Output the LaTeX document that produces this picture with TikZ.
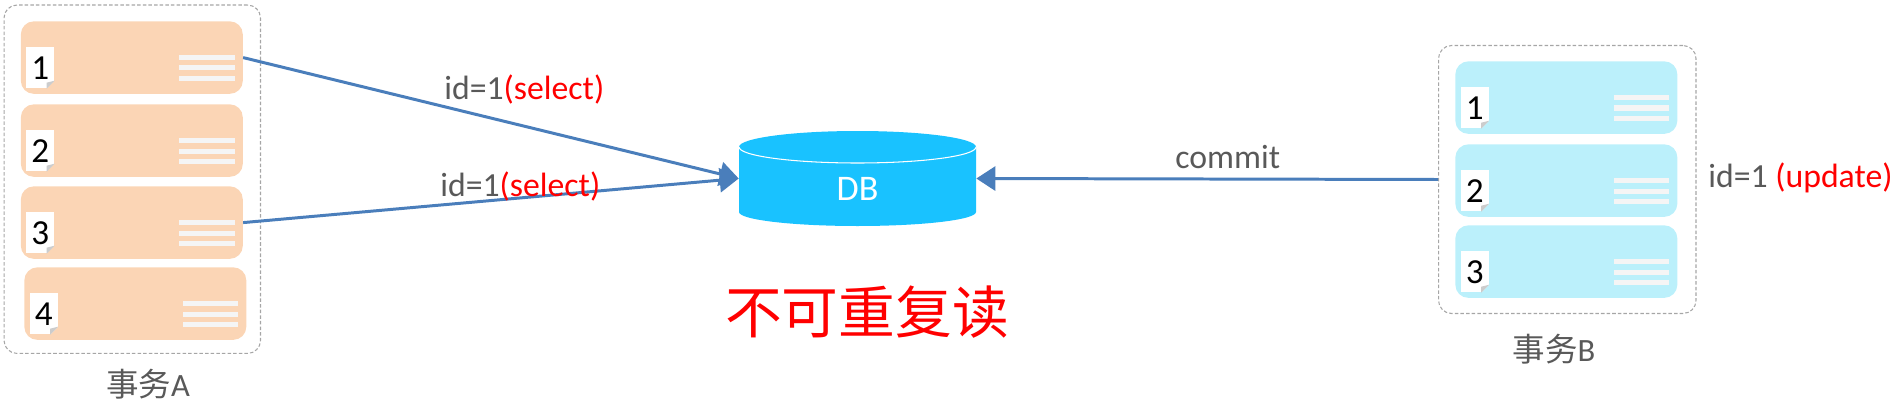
\documentclass[tikz,border=0pt]{standalone}
\usepackage{fontspec}
\setmainfont{Carlito}
\newfontfamily\cjk{Noto Sans CJK SC}
\usetikzlibrary{arrows.meta}
\definecolor{rowa}{HTML}{FBD5B5}
\definecolor{rowb}{HTML}{BBF0FB}
\definecolor{dbblue}{HTML}{19C2FF}
\definecolor{linkblue}{HTML}{4A7EBB}
\definecolor{txtgray}{HTML}{595959}
\tikzset{
    txbox/.style={draw=black!35, line width=0.6pt, dash pattern=on 2pt off 1.2pt, rounded corners=0.26cm, inner sep=0, anchor=north west},
    txrow/.style={rounded corners=0.26cm, inner sep=0, anchor=north west, minimum width=4.44cm, minimum height=1.45cm},
    txnote/.style={fill=white, inner sep=0, anchor=north west, minimum width=0.56cm, minimum height=0.82cm, font=\fontsize{20}{20}\selectfont},
    txlink/.style={draw=linkblue, line width=1.7pt, -{Triangle[length=0.38cm,width=0.48cm]}},
    txlabel/.style={anchor=base west, inner sep=0, text=txtgray, font=\fontsize{19.2}{22}\selectfont},
}
% one transaction row: name, x, y, number, colour
\newcommand{\txline}[5]{
    \node[txrow, fill=#5] (#1) at (#2, #3) {};
    \node[txnote] (#1note) at (#2+5.5, #3+26) {#4};
    \fill[#5] (#1note.south east) -- ++(-8, 0) -- ++(8, -8) -- cycle;
    \fill[black!20] (#1note.south east) ++(-8, 0) -- ++(8, -8) -- ++(-8, 2) -- cycle;
    \foreach \off in {34, 44.5, 55}
        \fill[black!4] (#2+158.5, #3+\off) rectangle (#2+214, #3+\off+5);
}
\begin{document}
\begin{tikzpicture}[x=0.02cm, y=-0.02cm]
    \useasboundingbox (0, 0) rectangle (1895, 402);
    \node[txbox, minimum width=5.13cm, minimum height=6.97cm] (boxa) at (3.5, 4.5) {};
    \node[txbox, minimum width=5.15cm, minimum height=5.36cm] (boxb) at (1438, 45) {};
    \txline{a1}{20.5}{21}{1}{rowa}
    \txline{a2}{20.5}{104}{2}{rowa}
    \txline{a3}{20.5}{186}{3}{rowa}
    \txline{a4}{24}{267}{4}{rowa}
    \txline{b1}{1455}{61}{1}{rowb}
    \txline{b2}{1455}{144}{2}{rowb}
    \txline{b3}{1455}{225}{3}{rowb}
    % the drum
    \fill[dbblue] (739, 147) arc[start angle=180, end angle=0, x radius=118.5, y radius=-16] -- (976, 212) arc[start angle=0, end angle=-180, x radius=118.5, y radius=-14] -- cycle;
    \draw[white, line width=0.6pt] (739, 147) arc[start angle=180, end angle=360, x radius=118.5, y radius=-16];
    \node[minimum width=4.74cm, minimum height=1.9cm, inner sep=0] (db) at (857.5, 178.5) {};
    \node[text=white, inner sep=0, font=\fontsize{20.5}{22}\selectfont] (dbname) at (857.5, 189) {DB};
    \draw[txlink] (a1.east) -- (db.west);
    \draw[txlink] (a3.east) -- (db.west);
    \draw[txlink] (boxb.west) -- (db.east);
    \node[txlabel] (sel1) at (444, 99) {id=1\textcolor{red}{(select)}};
    \node[txlabel] (sel2) at (440, 196) {id=1\textcolor{red}{(select)}};
    \node[txlabel] (commit) at (1175, 168) {commit};
    \node[txlabel] (upd) at (1708, 187) {id=1 \textcolor{red}{(update)}};
    \node[txlabel, anchor=center, font=\fontsize{18.5}{22}\selectfont] (namea) at (148, 384) {{\cjk 事务}A};
    \node[txlabel, anchor=center, font=\fontsize{18.5}{22}\selectfont] (nameb) at (1554, 349) {{\cjk 事务}B};
    \node[anchor=center, inner sep=0, text=red, font=\cjk\fontsize{32.3}{36}\selectfont] (title) at (867, 312) {不可重复读};
\end{tikzpicture}
\end{document}
